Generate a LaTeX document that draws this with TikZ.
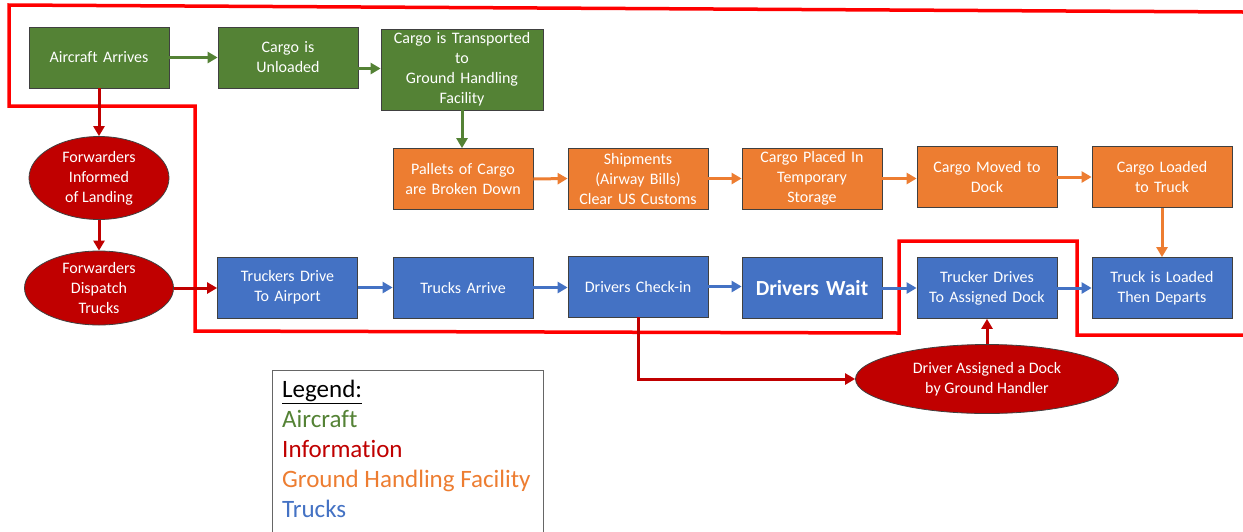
\documentclass[tikz,border=0pt]{standalone}
\usepackage{fontspec}
\setmainfont{Carlito}[Ligatures=NoCommon]
\usetikzlibrary{arrows.meta,calc,shapes.geometric}
\definecolor{cgreen}{HTML}{548235}
\definecolor{corange}{HTML}{ED7D31}
\definecolor{cblue}{HTML}{4472C4}
\definecolor{cdred}{HTML}{C00000}
\definecolor{cborder}{HTML}{404040}
\definecolor{cline}{HTML}{FF0000}
\begin{document}
\begin{tikzpicture}[x=1pt,y=-1pt,
  box/.style={draw=cborder,line width=0.8pt,minimum width=140pt,minimum height=61pt,inner sep=2pt,
    text=white,align=center,font=\fontsize{16}{20}\selectfont,text width=136pt},
  gbox/.style={box,fill=cgreen},
  obox/.style={box,fill=corange},
  bbox/.style={box,fill=cblue},
  ell/.style={ellipse,draw=cborder,line width=0.8pt,fill=cdred,text=white,align=center,
    font=\fontsize{16}{20}\selectfont,inner sep=0pt},
  arr/.style={line width=3pt,-{Triangle[length=10pt,width=11pt]}},
  garr/.style={arr,draw=cgreen},
  oarr/.style={arr,draw=corange},
  barr/.style={arr,draw=cblue},
  rarr/.style={arr,draw=cdred},
  outline/.style={draw=cline,line width=3.5pt,line join=miter},
  leg/.style={anchor=base west,font=\fontsize{25}{30}\selectfont,inner sep=0pt}
]
\useasboundingbox[fill=white] (0,0) rectangle (1243,531);

% red outline
\draw[outline] (1243,12) -- (9,5) -- (9,106) -- (195,106) -- (195,331) -- (899,333) -- (899,241) -- (1077,241) -- (1077,335) -- (1243,335);

% aircraft row
\node[gbox] (AA) at (99,57.5) {Aircraft Arrives};
\node[gbox] (CU) at (288,57.5) {Cargo is\\Unloaded};
\node[gbox,minimum width=162pt,minimum height=81pt,text width=158pt] (CT) at (462,69.5) {Cargo is Transported\\to\\Ground Handling\\Facility};

% ground handling row
\node[obox] (PB) at (463,179) {Pallets of Cargo\\are Broken Down};
\node[obox] (SH) at (638,178.5) {Shipments\\(Airway Bills)\\Clear US Customs};
\node[obox] (CP) at (812,178.5) {Cargo Placed In\\Temporary\\Storage};
\node[obox] (CM) at (987,177) {Cargo Moved to\\Dock};
\node[obox] (CL) at (1162,177) {Cargo Loaded\\to Truck};

% trucks row
\node[bbox] (TD) at (287.5,287.5) {Truckers Drive\\To Airport};
\node[bbox] (TA) at (463,287.5) {Trucks Arrive};
\node[bbox] (DC) at (638,286.5) {Drivers Check-in};
\node[bbox,font=\fontsize{21.5}{24}\selectfont\bfseries] (DW) at (812,288) {Drivers Wait};
\node[bbox] (TR) at (987,288) {Trucker Drives\\To Assigned Dock};
\node[bbox] (TL) at (1162,288) {Truck is Loaded\\Then Departs};

% information ellipses
\node[ell,minimum width=140pt,minimum height=83pt] (FI) at (99,178) {Forwarders\\Informed\\of Landing};
\node[ell,minimum width=149pt,minimum height=74pt] (FD) at (99,288) {Forwarders\\Dispatch\\Trucks};
\node[ell,minimum width=263pt,minimum height=69pt] (DA) at (987,379) {Driver Assigned a Dock\\by Ground Handler};

% green arrows
\draw[garr] (AA.east) -- (CU.west);
\draw[garr] ([yshift=-11pt]CU.east) -- ([yshift=-11pt]CU.east -| CT.west);
\draw[garr] (CT.south) -- (CT.south |- PB.north);

% orange arrows
\draw[oarr] (PB.east) -- (SH.west);
\draw[oarr] (SH.east) -- (CP.west);
\draw[oarr] (CP.east) -- (CP.east -| CM.west);
\draw[oarr] (CM.east) -- (CL.west);
\draw[oarr] (CL.south) -- (TL.north);

% blue arrows
\draw[barr] (TD.east) -- (TA.west);
\draw[barr] (TA.east) -- (TA.east -| DC.west);
\draw[barr] (DC.east) -- (DC.east -| DW.west);
\draw[barr] (DW.east) -- (TR.west);
\draw[barr] (TR.east) -- (TL.west);

% red information arrows
\draw[rarr] (AA.south) -- (FI.north);
\draw[rarr] (FI.south) -- (FD.north);
\draw[rarr] (FD.east) -- (FD.east -| TD.west);
\draw[rarr,line join=miter] (DC.south) |- (DA.west);
\draw[rarr] (DA.north) -- (TR.south);

% legend
\draw[draw=gray!80!black,line width=0.8pt] (272,540) -- (272,370) -- (543,370) -- (543,540);
\node[leg] (L0) at (282,397) {\underline{Legend:}};
\node[leg,text=cgreen] (L1) at (282,427) {Aircraft};
\node[leg,text=cdred] (L2) at (282,457) {Information};
\node[leg,text=corange] (L3) at (282,487) {Ground Handling Facility};
\node[leg,text=cblue] (L4) at (282,517) {Trucks};
\end{tikzpicture}
\end{document}
